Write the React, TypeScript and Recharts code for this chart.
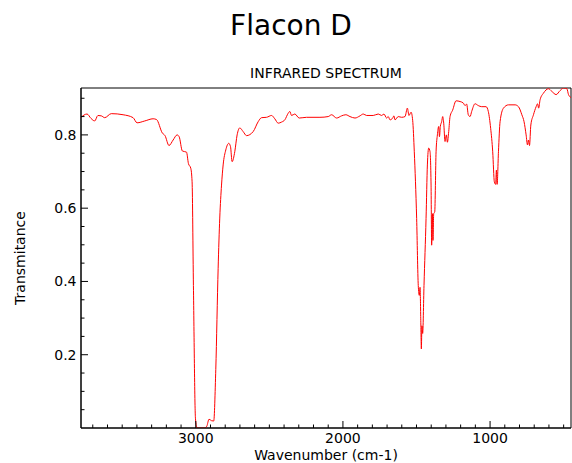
import { LineChart, Line, XAxis, YAxis, ReferenceArea } from 'recharts';

// wavenumber (cm-1), left to right
const wavenumber = [
  3780, 3739, 3712, 3687, 3665, 3642, 3619, 3574, 3494, 3426, 3399, 3347, 3290, 3267, 3227, 3209,
  3182, 3154, 3127, 3113, 3091, 3063, 3050, 3034, 3025, 3016, 3002, 2990, 2940, 2925, 2910, 2893,
  2878, 2864, 2848, 2837, 2825, 2814, 2796, 2776, 2764, 2753, 2735, 2719, 2701, 2678, 2655, 2610,
  2576, 2553, 2519, 2485, 2463, 2440, 2417, 2395, 2372, 2361, 2349, 2327, 2297, 2247, 2156, 2100,
  2077, 2043, 2009, 1980, 1952, 1918, 1884, 1862, 1839, 1794, 1760, 1737, 1721, 1703, 1692, 1680,
  1662, 1653, 1646, 1624, 1601, 1578, 1562, 1551, 1537, 1526, 1515, 1499, 1488, 1481, 1476, 1471,
  1467, 1463, 1458, 1449, 1435, 1426, 1417, 1408, 1401, 1397, 1392, 1388, 1383, 1376, 1367, 1358,
  1349, 1344, 1338, 1329, 1322, 1315, 1306, 1297, 1290, 1281, 1272, 1254, 1231, 1204, 1182, 1170,
  1159, 1148, 1136, 1125, 1102, 1080, 1057, 1027, 1012, 996, 982, 971, 962, 957, 952, 943,
  932, 909, 875, 830, 807, 784, 769, 755, 746, 739, 732, 723, 705, 687, 677, 670,
  660, 637, 603, 581, 551, 524, 501, 478, 467, 450,
];

const transmittance = [
  0.848, 0.857, 0.845, 0.838, 0.853, 0.852, 0.847, 0.858, 0.855, 0.847, 0.833, 0.838, 0.844, 0.842, 0.805, 0.798,
  0.771, 0.786, 0.800, 0.795, 0.756, 0.753, 0.722, 0.709, 0.672, 0.389, 0.025, 0.0, 0.0, 0.005, 0.024, 0.02,
  0.019, 0.16, 0.436, 0.573, 0.663, 0.718, 0.759, 0.777, 0.768, 0.727, 0.754, 0.800, 0.819, 0.809, 0.798, 0.809,
  0.836, 0.847, 0.848, 0.853, 0.844, 0.832, 0.835, 0.841, 0.859, 0.864, 0.853, 0.857, 0.846, 0.848, 0.848, 0.850,
  0.855, 0.846, 0.852, 0.855, 0.850, 0.846, 0.852, 0.857, 0.853, 0.853, 0.857, 0.853, 0.857, 0.846, 0.850, 0.841,
  0.846, 0.852, 0.841, 0.850, 0.848, 0.850, 0.873, 0.853, 0.862, 0.840, 0.754, 0.572, 0.389, 0.362, 0.384, 0.298,
  0.216, 0.279, 0.258, 0.389, 0.572, 0.718, 0.764, 0.754, 0.663, 0.499, 0.585, 0.512, 0.585, 0.590, 0.754, 0.800,
  0.823, 0.795, 0.823, 0.836, 0.850, 0.832, 0.782, 0.800, 0.780, 0.809, 0.850, 0.868, 0.893, 0.891, 0.887, 0.880,
  0.884, 0.855, 0.850, 0.864, 0.885, 0.880, 0.877, 0.877, 0.864, 0.818, 0.754, 0.672, 0.665, 0.704, 0.665, 0.754,
  0.836, 0.873, 0.882, 0.882, 0.877, 0.855, 0.836, 0.800, 0.773, 0.786, 0.771, 0.827, 0.855, 0.877, 0.885, 0.873,
  0.896, 0.914, 0.926, 0.919, 0.910, 0.921, 0.928, 0.926, 0.910, 0.902,
];

const xMajorTicks = [1000, 2000, 3000];
const xMinorTicks = [
  500, 600, 700, 800, 900, 1100, 1200, 1300, 1400, 1500, 1600, 1700, 1800, 1900,
  2100, 2200, 2300, 2400, 2500, 2600, 2700, 2800, 2900, 3100, 3200, 3300, 3400, 3500, 3600, 3700,
];
const yMajorTicks = [0.2, 0.4, 0.6, 0.8];
const yMinorTicks = [0.05, 0.1, 0.15, 0.25, 0.3, 0.35, 0.45, 0.5, 0.55, 0.65, 0.7, 0.75, 0.85, 0.9];

const data = wavenumber.map((w, i) => ({ w, t: transmittance[i] }));

const FONT = '"DejaVu Sans", sans-serif';

const XTick = (props: any) => {
  const { x, y, payload } = props;
  const major = xMajorTicks.includes(payload.value);
  return (
    <g>
      <line x1={x} x2={x} y1={y} y2={y - (major ? 7 : 3.5)} stroke="#000" strokeWidth={1} />
      {major && (
        <text x={x} y={y + 15} textAnchor="middle" fontSize={14} fontFamily={FONT} fill="#000">
          {payload.value}
        </text>
      )}
    </g>
  );
};

const YTick = (props: any) => {
  const { x, y, payload } = props;
  const major = yMajorTicks.includes(payload.value);
  return (
    <g>
      <line x1={x} x2={x + (major ? 7 : 3.5)} y1={y} y2={y} stroke="#000" strokeWidth={1} />
      {major && (
        <text x={x - 4.5} y={y} dy="0.35em" textAnchor="end" fontSize={14} fontFamily={FONT} fill="#000">
          {payload.value.toFixed(1)}
        </text>
      )}
    </g>
  );
};

export default function App() {
  return (
    <div style={{ position: 'absolute', left: 0, top: 0, width: 572, height: 463, background: '#fff' }}>
      <LineChart width={572} height={463} data={data} margin={{ top: 88, right: 1, bottom: 0, left: 0 }}>
        <XAxis
          type="number"
          dataKey="w"
          domain={[450, 3780]}
          reversed
          allowDataOverflow
          ticks={[...xMajorTicks, ...xMinorTicks]}
          interval={0}
          tickSize={0}
          tickMargin={0}
          tickLine={false}
          tick={<XTick />}
          height={35}
          axisLine={{ stroke: '#000' }}
        />
        <YAxis
          type="number"
          domain={[0, 0.928]}
          allowDataOverflow
          ticks={[...yMajorTicks, ...yMinorTicks]}
          interval={0}
          tickSize={0}
          tickMargin={0}
          tickLine={false}
          tick={<YTick />}
          width={81}
          axisLine={{ stroke: '#000' }}
        />
        <ReferenceArea x1={3780} x2={450} y1={0} y2={0.928} fill="none" stroke="#000" strokeWidth={1} />
        <Line
          type="monotone"
          dataKey="t"
          stroke="#ff0000"
          strokeWidth={1}
          dot={false}
          isAnimationActive={false}
        />
      </LineChart>
      <svg
        width={572}
        height={463}
        style={{ position: 'absolute', left: 0, top: 0, pointerEvents: 'none' }}
      >
        <text x={291} y={35} textAnchor="middle" fontSize={28} fontFamily={FONT} fill="#000">
          Flacon D
        </text>
        <text x={326} y={78} textAnchor="middle" fontSize={14} fontFamily={FONT} fill="#000">
          INFRARED SPECTRUM
        </text>
        <text x={326} y={460} textAnchor="middle" fontSize={14} fontFamily={FONT} fill="#000">
          Wavenumber (cm-1)
        </text>
        <text
          x={0}
          y={0}
          transform="translate(25,258) rotate(-90)"
          textAnchor="middle"
          fontSize={14}
          fontFamily={FONT}
          fill="#000"
        >
          Transmitance
        </text>
      </svg>
    </div>
  );
}
